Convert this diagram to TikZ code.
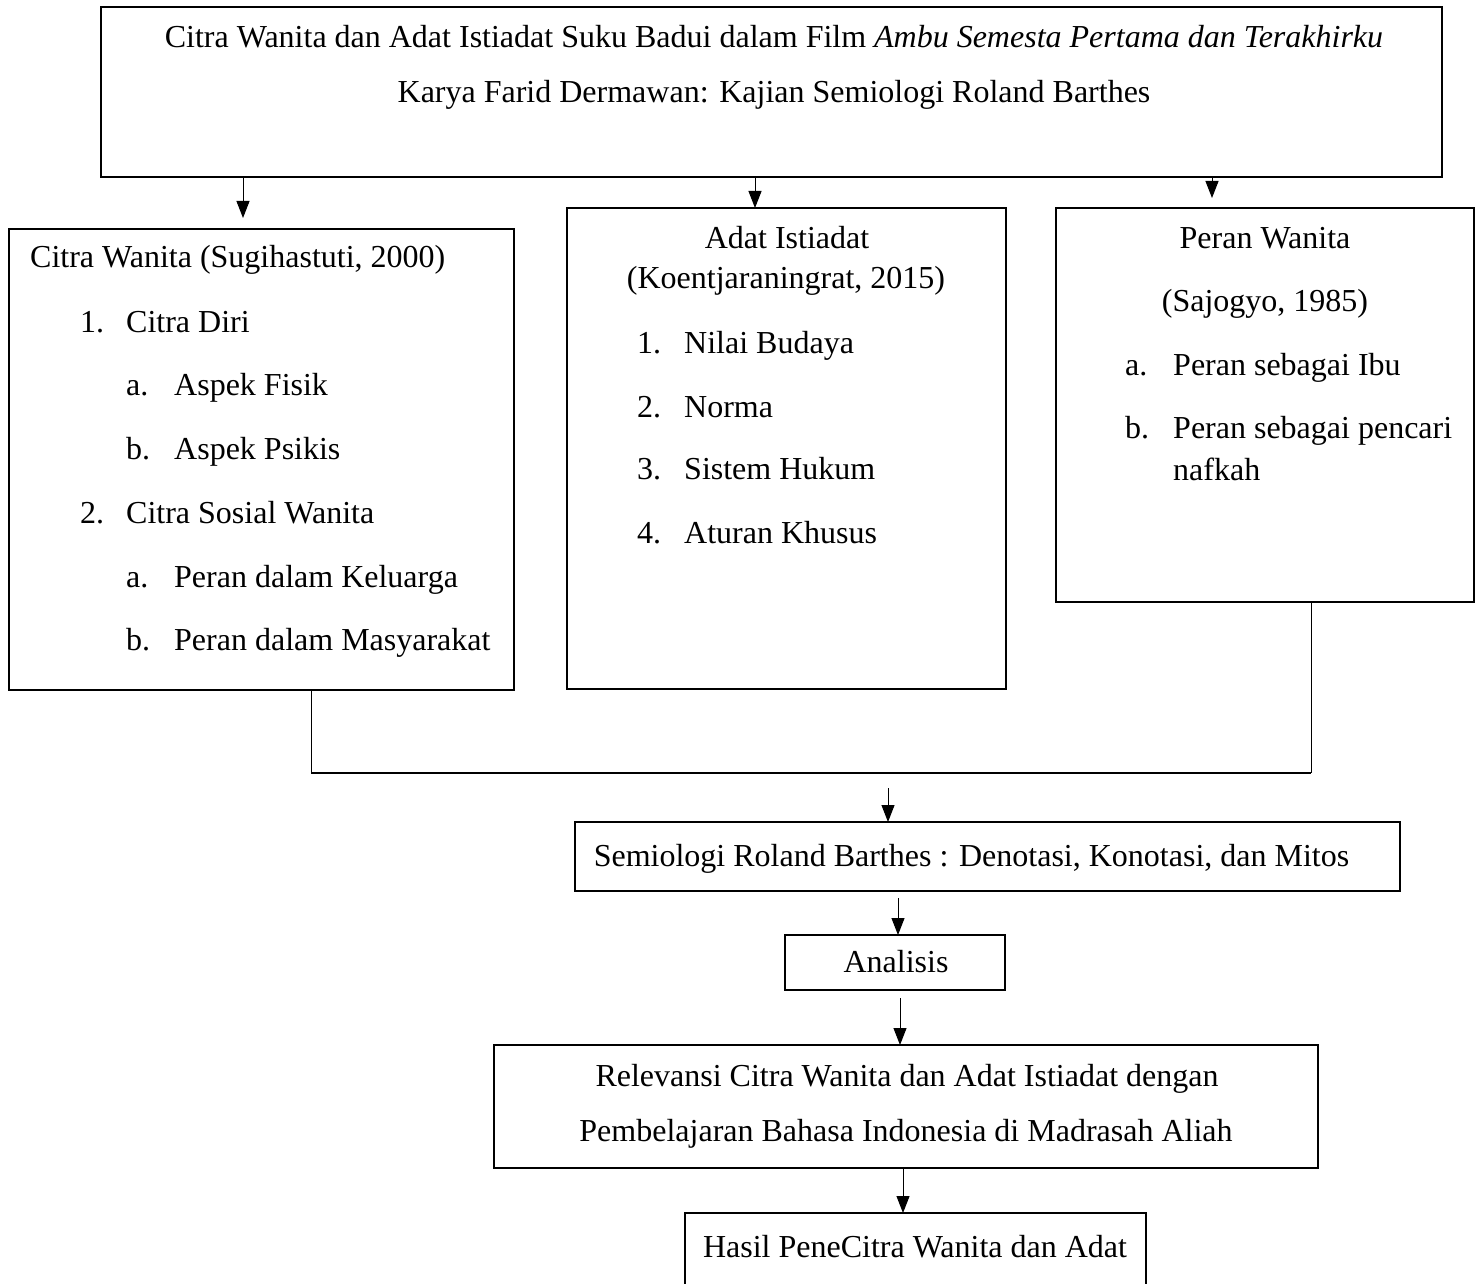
\documentclass[tikz,border=0pt]{standalone}
\usepackage{fontspec}
\setmainfont{Liberation Serif}
\usetikzlibrary{arrows.meta,calc}
\begin{document}
\begin{tikzpicture}[x=1pt,y=-1pt,
  font=\fontsize{32}{38}\selectfont,
  box/.style={draw, line width=1.3pt, inner sep=0pt, outer sep=0pt},
  arr/.style={-{Triangle[length=17pt,width=13pt]}, line width=1pt},
  txt/.style={inner sep=0pt, anchor=mid west, yshift=-8pt},
  ctxt/.style={inner sep=0pt, anchor=mid, yshift=-8pt}]
\useasboundingbox (0,0) rectangle (1483,1284);
% boxes
\node[box, minimum width=1341pt, minimum height=170pt] (top) at (771.5,92) {};
\node[box, minimum width=505pt, minimum height=461pt] (left) at (261.5,459.5) {};
\node[box, minimum width=439pt, minimum height=481pt] (mid) at (786.5,448.5) {};
\node[box, minimum width=418pt, minimum height=394pt] (right) at (1265,405) {};
\node[box, minimum width=825pt, minimum height=69pt] (semi) at (987.5,856.5) {};
\node[box, minimum width=220pt, minimum height=55pt] (anal) at (895,962.5) {};
\node[box, minimum width=824pt, minimum height=123pt] (rel) at (906,1106.5) {};
\node[box, minimum width=461pt, minimum height=150pt] (hasil) at (915.5,1288) {};
% top texts
\node[ctxt] (t1) at (774,37) {Citra Wanita dan Adat Istiadat Suku Badui dalam Film \textit{Ambu Semesta Pertama dan Terakhirku}};
\node[ctxt] (t2) at (774,92) {Karya Farid Dermawan: Kajian Semiologi Roland Barthes};
% left box texts
\node[txt] (l0) at (30,257) {Citra Wanita (Sugihastuti, 2000)};
\node[txt] (l1n) at (80,322) {1.};
\node[txt] (l1) at (126,322) {Citra Diri};
\node[txt] (l2n) at (126,385) {a.};
\node[txt] (l2) at (174,385) {Aspek Fisik};
\node[txt] (l3n) at (126,449) {b.};
\node[txt] (l3) at (174,449) {Aspek Psikis};
\node[txt] (l4n) at (80,513) {2.};
\node[txt] (l4) at (126,513) {Citra Sosial Wanita};
\node[txt] (l5n) at (126,577) {a.};
\node[txt] (l5) at (174,577) {Peran dalam Keluarga};
\node[txt] (l6n) at (126,640) {b.};
\node[txt] (l6) at (174,640) {Peran dalam Masyarakat};
% middle box texts
\node[ctxt] (m0) at (787,238) {Adat Istiadat};
\node[ctxt] (m0b) at (786,278) {(Koentjaraningrat, 2015)};
\node[txt] (m1n) at (637,343) {1.};
\node[txt] (m1) at (684,343) {Nilai Budaya};
\node[txt] (m2n) at (637,407) {2.};
\node[txt] (m2) at (684,407) {Norma};
\node[txt] (m3n) at (637,469) {3.};
\node[txt] (m3) at (684,469) {Sistem Hukum};
\node[txt] (m4n) at (637,533) {4.};
\node[txt] (m4) at (684,533) {Aturan Khusus};
% right box texts
\node[ctxt] (r0) at (1265,238) {Peran Wanita};
\node[ctxt] (r0b) at (1265,301) {(Sajogyo, 1985)};
\node[txt] (r1n) at (1125,365) {a.};
\node[txt] (r1) at (1173,365) {Peran sebagai Ibu};
\node[txt] (r2n) at (1125,428) {b.};
\node[txt] (r2) at (1173,428) {Peran sebagai pencari};
\node[txt] (r2b) at (1173,470) {nafkah};
% lower texts
\node[ctxt] (s1) at (971.5,856) {Semiologi Roland Barthes : Denotasi, Konotasi, dan Mitos};
\node[ctxt] (a1) at (896,962) {Analisis};
\node[ctxt] (rl1) at (907,1076) {Relevansi Citra Wanita dan Adat Istiadat dengan};
\node[ctxt] (rl2) at (906,1131) {Pembelajaran Bahasa Indonesia di Madrasah Aliah};
\node[ctxt] (h1) at (915,1247) {Hasil PeneCitra Wanita dan Adat};
% coordinates
\coordinate (x1) at (243,218);
\coordinate (x2) at (755,0);
\coordinate (x3) at (1212,198);
\coordinate (jl) at (311,773);
\coordinate (jr) at (1311,773);
\coordinate (s0) at (888,788);
\coordinate (a0) at (898,898);
\coordinate (r0c) at (900,998);
\coordinate (h0) at (903,0);
% connectors
\draw[arr] (top.south -| x1) -- (x1);
\draw[arr] (top.south -| x2) -- (mid.north -| x2);
\draw[arr] (top.south -| x3) -- (x3);
\draw[line width=1pt] (left.south -| jl) -- (jl);
\draw[line width=1pt] (right.south -| jr) -- (jr);
\draw[line width=2.8pt] (jl) -- (jr);
\draw[arr] (s0) -- (semi.north -| s0);
\draw[arr] (a0) -- (anal.north -| a0);
\draw[arr] (r0c) -- (rel.north -| r0c);
\draw[arr] (rel.south -| h0) -- (hasil.north -| h0);
\end{tikzpicture}
\end{document}
